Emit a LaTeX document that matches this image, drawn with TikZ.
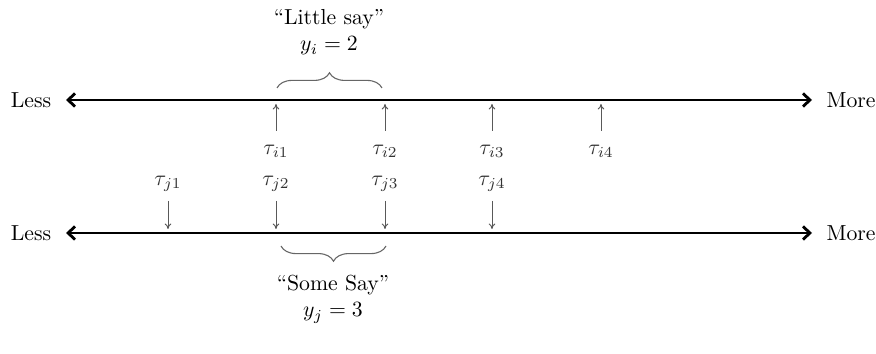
\documentclass[tikz,border=0pt]{standalone}
\usetikzlibrary{arrows.meta,decorations.pathreplacing}
\begin{document}
\begin{tikzpicture}[x=0.46pt,y=-0.46pt,
  axis/.style={line width=1.3pt,{Straight Barb[length=3.2pt,width=6pt,line width=1.3pt]}-{Straight Barb[length=3.2pt,width=6pt,line width=1.3pt]}},
  tick/.style={black!65,line width=0.45pt,-{To[length=2.5pt,width=3pt]}},
  brc/.style={black!60,line width=0.5pt,decorate,decoration={brace,amplitude=7pt}},
  lbl/.style={inner sep=1pt},
  tau/.style={inner sep=1pt,text=black!80}]
\useasboundingbox (0,0) rectangle (876,354);
% top axis
\node[lbl] (lessA) at (31,100) {Less};
\node[lbl,anchor=west] (moreA) at (824,100) {More};
\coordinate (aL) at (66,100);
\coordinate (aR) at (812,100);
\draw[axis] (aL) -- (aR);
% bottom axis
\node[lbl] (lessB) at (31,233) {Less};
\node[lbl,anchor=west] (moreB) at (824,233) {More};
\coordinate (bL) at (66,233);
\coordinate (bR) at (812,233);
\draw[axis] (bL) -- (bR);
% top thresholds
\foreach \x/\k in {276/1,385/2,492/3,601/4}{
  \node[tau] (ti\k) at (\x,151) {$\tau_{i\k}$};
  \coordinate (tiS\k) at (\x,131);
  \coordinate (tiE\k) at (\x,104);
  \draw[tick] (tiS\k) -- (tiE\k);
}
% bottom thresholds
\foreach \x/\k in {168/1,276/2,385/3,492/4}{
  \node[tau] (tj\k) at (\x,184) {$\tau_{j\k}$};
  \coordinate (tjS\k) at (\x,201);
  \coordinate (tjE\k) at (\x,229);
  \draw[tick] (tjS\k) -- (tjE\k);
}
% top brace
\coordinate (brA1) at (277,88);
\coordinate (brA2) at (382,88);
\draw[brc] (brA1) -- (brA2);
\node[lbl] (little) at (329,19) {``Little say''};
\node[lbl] (yi) at (329,46) {$y_i=2$};
% bottom brace
\coordinate (brB1) at (386,246);
\coordinate (brB2) at (281,246);
\draw[brc] (brB1) -- (brB2);
\node[lbl] (some) at (333,285) {``Some Say''};
\node[lbl] (yj) at (333,313) {$y_j=3$};
\end{tikzpicture}
\end{document}
